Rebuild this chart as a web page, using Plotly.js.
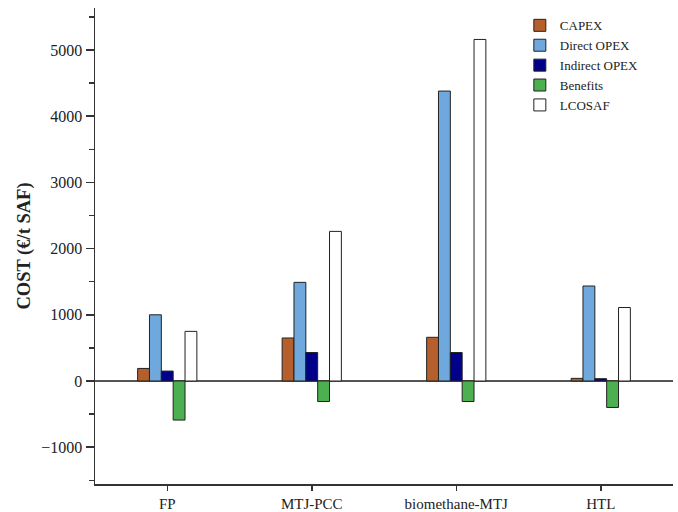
<!DOCTYPE html>
<html>
<head>
<meta charset="utf-8">
<script src="https://cdn.plot.ly/plotly-3.0.1.min.js"></script>
<style>html,body{margin:0;padding:0;background:#fff;}#chart{width:678px;height:512px;}</style>
</head>
<body>
<div id="chart"></div>
<script>
const categories = ["FP", "MTJ-PCC", "biomethane-MTJ", "HTL"];
const capex = [190, 650, 660, 40];
const directOpex = [1000, 1490, 4380, 1435];
const indirectOpex = [150, 430, 430, 35];
const benefits = [-590, -310, -310, -400];
const lcosaf = [750, 2260, 5160, 1110];
const seriesNames = ["CAPEX", "Direct OPEX", "Indirect OPEX", "Benefits", "LCOSAF"];
const seriesColors = ["#b55f2d", "#6fa8dc", "#00008b", "#4caf50", "#ffffff"];
const seriesValues = [capex, directOpex, indirectOpex, benefits, lcosaf];

const traces = seriesValues.map((vals, i) => ({
  type: "bar",
  name: seriesNames[i],
  x: categories,
  y: vals,
  marker: {color: seriesColors[i], line: {color: "#222", width: 1}}
}));

const font = "Liberation Serif, Times New Roman, serif";
const layout = {
  width: 678, height: 512,
  margin: {l: 95, r: 5, t: 8, b: 28},
  paper_bgcolor: "#fff", plot_bgcolor: "#fff",
  font: {family: font, size: 15, color: "#222"},
  barmode: "group",
  bargap: 0.59,
  bargroupgap: 0,
  showlegend: true,
  legend: {x: 0.735, y: 0.995, xanchor: "left", yanchor: "top",
    font: {family: font, size: 13, color: "#222"}, bgcolor: "rgba(0,0,0,0)",
    tracegroupgap: 0, itemwidth: 30},
  xaxis: {
    type: "category", range: [-0.5, 3.5],
    showline: true, linecolor: "#333", linewidth: 1.5, mirror: false,
    ticks: "outside", ticklen: 5, tickwidth: 1.5, tickcolor: "#333",
    showgrid: false, zeroline: false,
    tickfont: {family: font, size: 15, color: "#222"},
    minor: {ticks: "outside", tick0: 0.5, dtick: 1, ticklen: 4, tickwidth: 1.5, tickcolor: "#333", showgrid: false}
  },
  yaxis: {
    range: [-1556, 5635],
    dtick: 1000, tick0: 0,
    showline: true, linecolor: "#333", linewidth: 1.5,
    ticks: "outside", ticklen: 8, tickwidth: 1.5, tickcolor: "#333",
    showgrid: false,
    zeroline: true, zerolinecolor: "#555", zerolinewidth: 1.5,
    tickfont: {family: font, size: 16, color: "#222"},
    minor: {ticks: "outside", dtick: 500, ticklen: 5, tickwidth: 1.5, tickcolor: "#333", showgrid: false},
    title: {text: "<b>COST (€/t SAF)</b>", font: {family: font, size: 18.5, color: "#222"}, standoff: 6}
  }
};
Plotly.newPlot("chart", traces, layout, {displayModeBar: false, staticPlot: true});
</script>
</body>
</html>
